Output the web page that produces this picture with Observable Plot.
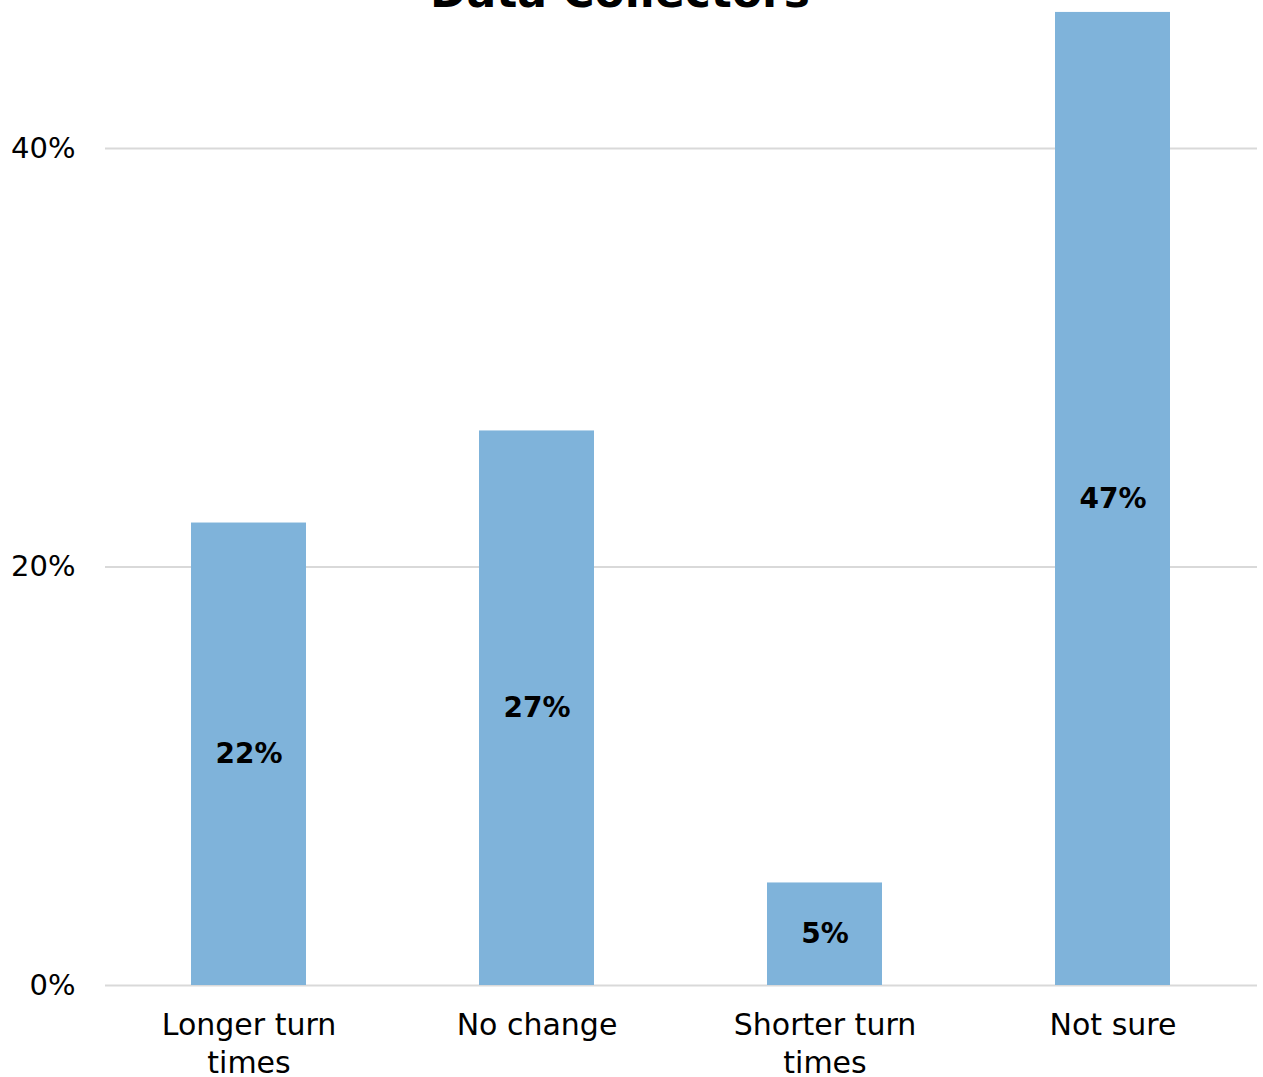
<!DOCTYPE html>
<html>
<head>
<meta charset="utf-8">
<script src="https://cdn.jsdelivr.net/npm/d3@7"></script>
<script src="https://cdn.jsdelivr.net/npm/@observablehq/plot@0.6"></script>
<style>
  html, body { margin: 0; padding: 0; background: #fff; overflow: hidden; }
  #wrap { position: relative; width: 1263px; height: 1077px; }
  #title { position: absolute; left: 0; width: 1240px; top: -34px; text-align: center;
           font-family: "DejaVu Sans", sans-serif; font-weight: bold; font-size: 44px; color: #000; }
  svg { font-family: "DejaVu Sans", sans-serif; }
</style>
</head>
<body>
<div id="wrap">
  <div id="title">Data Collectors</div>
  <div id="chart"></div>
</div>
<script>
const categories = ["Longer turn\ntimes", "No change", "Shorter turn\ntimes", "Not sure"];
const values = [22.1, 26.5, 4.9, 46.5];
const valueLabels = ["22%", "27%", "5%", "47%"];
const yTicks = [0, 20, 40];

const data = categories.map((c, i) => ({cat: c, v: values[i], label: valueLabels[i]}));

const chart = Plot.plot({
  width: 1263,
  height: 1077,
  marginLeft: 105,
  marginRight: 6,
  marginTop: 0,
  marginBottom: 92,
  x: {domain: categories, paddingInner: 0.6, paddingOuter: 0.3, axis: null},
  y: {domain: [0, 47.07], axis: null},
  marks: [
    Plot.ruleY(yTicks, {stroke: "#d9d9d9", strokeWidth: 2}),
    Plot.barY(data, {x: "cat", y: "v", fill: "#7fb3da"}),
    Plot.text(data, {x: "cat", y: d => d.v / 2, text: "label", fontWeight: "bold", fontSize: 28, fill: "#000"}),
    Plot.text(data, {x: "cat", y: 0, text: "cat", lineAnchor: "top", dy: 23, lineHeight: 1.25, fontSize: 30, fill: "#000"}),
    Plot.text(yTicks, {y: d => d, frameAnchor: "left", dx: -30, textAnchor: "end", text: d => d + "%", fontSize: 29, fill: "#000"})
  ]
});
document.getElementById("chart").appendChild(chart);
</script>
</body>
</html>
